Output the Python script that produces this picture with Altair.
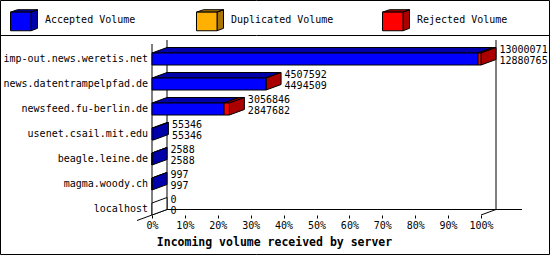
import altair as alt
import pandas as pd

# ---------------- data ----------------
hosts = ["imp-out.news.weretis.net", "news.datentrampelpfad.de", "newsfeed.fu-berlin.de",
         "usenet.csail.mit.edu", "beagle.leine.de", "magma.woody.ch", "localhost"]
accepted = [12880765, 4494509, 2847682, 55346, 2588, 997, 0]
duplicated = [0, 0, 0, 0, 0, 0, 0]
rejected = [119306, 13083, 209164, 0, 0, 0, 0]
series = ["Accepted Volume", "Duplicated Volume", "Rejected Volume"]
front_colors = ["#0000FF", "#FFB000", "#FF0000"]
shade_colors = ["#0000AA", "#AA7500", "#AA0000"]
tick_values = [0, 10, 20, 30, 40, 50, 60, 70, 80, 90, 100]
axis_title = "Incoming volume received by server"

# ---------------- layout (pixels) ----------------
LEFT, RIGHT_PAD, W, H, BOTTOM_PAD = 152, 69, 329, 215, 40
ROW0, ROWSTEP, HALF = 59, 25, 6
DEPTH_X, DEPTH_Y = 15, 5.5
U = 100.0 / W          # x data units per pixel
DXU = DEPTH_X * U
MONO = "DejaVu Sans Mono"

totals = [a + d + r for a, d, r in zip(accepted, duplicated, rejected)]
vmax = max(totals)

front_rows, top_rows, side_rows, host_rows = [], [], [], []
for i, h in enumerate(hosts):
    c = ROW0 + ROWSTEP * i
    yt, yb = c - HALF, c + HALF
    start = 0
    last = None
    for s, v in zip(series, (accepted[i], duplicated[i], rejected[i])):
        if v <= 0:
            continue
        x0 = start / vmax * 100
        x1 = (start + v) / vmax * 100
        sid = f"{i}-{s}"
        front_rows.append(dict(series=s, x=x0, x2=x1, y=yt, y2=yb))
        top_rows.append(dict(series=s, id=sid, y=yt, x=x0, x2=x1))
        top_rows.append(dict(series=s, id=sid, y=yt - DEPTH_Y, x=x0 + DXU, x2=x1 + DXU))
        start += v
        last = s
    t = start / vmax * 100
    side_rows.append(dict(series=last or "none", empty=last is None, id=str(i), x=t, y=yb, y2=yt))
    side_rows.append(dict(series=last or "none", empty=last is None, id=str(i), x=t + DXU,
                          y=yb - DEPTH_Y, y2=yt - DEPTH_Y))
    host_rows.append(dict(host=h, c=c, t=t, zero=0, total=str(totals[i]), acc=str(accepted[i]),
                          ytop=c - 9, ybot=c + 1.5))

front_df = pd.DataFrame(front_rows)
top_df = pd.DataFrame(top_rows)
side_df = pd.DataFrame(side_rows)
host_df = pd.DataFrame(host_rows)

def xd(px):
    return (px - LEFT) * U

frame_df = pd.DataFrame([
    dict(x=0, x2=0, y=44, y2=H),                                  # front left edge
    dict(x=DXU, x2=DXU, y=40, y2=H - DEPTH_Y),                    # back left wall
    dict(x=100 + DXU, x2=100 + DXU, y=40, y2=H - DEPTH_Y),        # back right wall
    dict(x=DXU, x2=xd(522), y=H - DEPTH_Y, y2=H - DEPTH_Y),       # floor back
    dict(x=-DXU, x2=DXU, y=H + DEPTH_Y, y2=H - DEPTH_Y),          # floor left
    dict(x=100, x2=100 + DXU, y=H, y2=H - DEPTH_Y),               # floor right
    dict(x=xd(0), x2=xd(550), y=35.5, y2=35.5),                   # legend separator
])
border_df = pd.DataFrame([dict(x=xd(0.5), x2=xd(549.5), y=0.5, y2=254.5)])

# ---------------- scales / axes ----------------
xscale = alt.Scale(domain=[0, 100], nice=False, zero=False)
yscale = alt.Scale(domain=[0, H], reverse=True, nice=False, zero=False)
xaxis = alt.Axis(values=tick_values, labelExpr="datum.value + '%'", tickSize=3, domain=False,
                 grid=False, labelFont=MONO, labelFontSize=10, labelColor="black",
                 labelOverlap=False, labelBound=False, labelFlush=False,
                 tickColor="black", labelPadding=2, title=axis_title, titleFont=MONO,
                 titleFontSize=11.5, titleFontWeight="bold", titleColor="black",
                 titleX=122, titleY=27, titleAlign="center", titleBaseline="middle")

def X(field="x"):
    return alt.X(f"{field}:Q", scale=xscale, axis=xaxis, stack=None)

def Y(field="y"):
    return alt.Y(f"{field}:Q", scale=yscale, axis=None, stack=None)

FRONT_PATH = "M-1,-0.6L0.52,-0.6L0.52,0.78L-1,0.78Z"
SHADE_PATH = "M-1,-0.6L-0.48,-0.78L1,-0.78L0.52,-0.6ZM0.52,-0.6L1,-0.78L1,0.6L0.52,0.78Z"

def legend(path, label_opacity):
    return alt.Legend(orient="none", legendX=-142, legendY=6, direction="horizontal",
                      columns=3, gridAlign="all", columnPadding=46, padding=0,
                      symbolType=path, symbolSize=729, symbolStrokeColor="black",
                      symbolStrokeWidth=1, symbolOpacity=1, labelFont=MONO,
                      labelFontSize=10, labelColor="black", labelOpacity=label_opacity,
                      labelOffset=7, title=None)

frame = alt.Chart(frame_df).mark_rule(color="black", strokeWidth=1).encode(
    x=X(), x2="x2", y=Y(), y2="y2")

tops = alt.Chart(top_df).mark_area(orient="horizontal", stroke="black", strokeWidth=1,
                                   opacity=1).encode(
    y=Y(), x=X(), x2="x2", detail="id:N",
    fill=alt.Fill("series:N", scale=alt.Scale(domain=series, range=shade_colors),
                  legend=legend(SHADE_PATH, 0)))

sides = alt.Chart(side_df).transform_filter("!datum.empty").mark_area(
    orient="vertical", stroke="black", strokeWidth=1, opacity=1).encode(
    x=X(), y=Y(), y2="y2", detail="id:N",
    fill=alt.Fill("series:N", scale=alt.Scale(domain=series, range=shade_colors), legend=None))

empty_sides = alt.Chart(side_df).transform_filter("datum.empty").mark_area(
    orient="vertical", stroke="black", strokeWidth=1, fill="white", opacity=1).encode(
    x=X(), y=Y(), y2="y2", detail="id:N")

fronts = alt.Chart(front_df).mark_rect(stroke="black", strokeWidth=1, opacity=1).encode(
    x=X(), x2="x2", y=Y(), y2="y2",
    fill=alt.Fill("series:N", scale=alt.Scale(domain=series, range=front_colors),
                  legend=legend(FRONT_PATH, 1)))

host_text = alt.Chart(host_df).mark_text(align="right", baseline="middle", dx=-4,
                                         font=MONO, fontSize=10, color="black").encode(
    x=X("zero"), y=Y("c"), text="host:N")

total_text = alt.Chart(host_df).mark_text(align="left", baseline="middle", dx=DEPTH_X + 3.5,
                                          font=MONO, fontSize=10, color="black").encode(
    x=X("t"), y=Y("ytop"), text="total:N")

acc_text = alt.Chart(host_df).mark_text(align="left", baseline="middle", dx=DEPTH_X + 3.5,
                                        font=MONO, fontSize=10, color="black").encode(
    x=X("t"), y=Y("ybot"), text="acc:N")

border = alt.Chart(border_df).mark_rect(fillOpacity=0, stroke="black", strokeWidth=1).encode(
    x=X(), x2="x2", y=Y(), y2="y2")

chart = alt.layer(frame, tops, sides, empty_sides, fronts, host_text, total_text, acc_text,
                  border).resolve_scale(fill="independent").properties(
    width=W, height=H,
    padding={"left": LEFT, "top": 0, "right": RIGHT_PAD, "bottom": BOTTOM_PAD},
    autosize=alt.AutoSizeParams(type="none"),
    background="white",
).configure_view(strokeWidth=0)

chart.save("out.html", embed_options={"renderer": "svg", "actions": False})
